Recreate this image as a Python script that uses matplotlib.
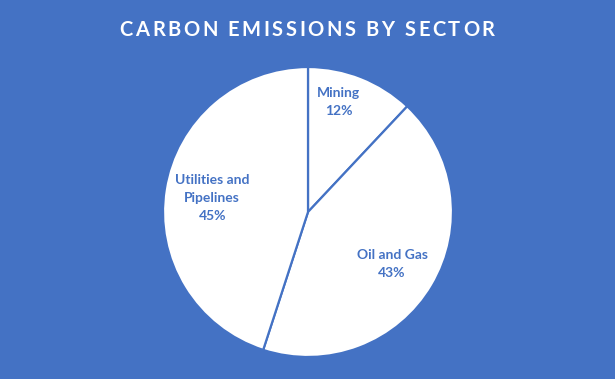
import matplotlib.pyplot as plt

# data
sectors = ["Mining", "Oil and Gas", "Utilities and\nPipelines"]
shares = [12, 43, 45]
# label positions inside the pie (data coords, radius = 1)
label_pos = [(0.21, 0.76), (0.58, -0.36), (-0.66, 0.10)]
title = "CARBON EMISSIONS BY SECTOR"

BLUE = "#4472C4"


def spaced_title(fig, text, cx, cy, target_w, **kw):
    """Draw text letter by letter so it spans target_w pixels."""
    renderer = fig.canvas.get_renderer()
    widths = []
    for ch in text:
        if ch == " ":
            widths.append(None)
            continue
        t = fig.text(0, 0, ch, **kw)
        widths.append(t.get_window_extent(renderer).width)
        t.remove()
    space_w = 5.0
    raw = sum(w if w is not None else space_w for w in widths)
    gap = (target_w - raw) / (len(text) - 1)
    x = cx - target_w / 2
    W, H = fig.bbox.width, fig.bbox.height
    for ch, w in zip(text, widths):
        if w is None:
            x += space_w + gap
            continue
        fig.text(x / W, cy / H, ch, ha="left", va="center", **kw)
        x += w + gap


def create_chart():
    fig = plt.figure(figsize=(6.15, 3.79), dpi=100)
    fig.patch.set_facecolor(BLUE)

    # pie centred near (308, 212) px with a 145 px radius
    W, H = 615, 379
    cx, cy, r = 308, H - 212, 145
    ax = fig.add_axes([(cx - r) / W, (cy - r) / H, 2 * r / W, 2 * r / H])
    ax.pie(shares, startangle=90, counterclock=False, colors=["white"] * 3,
           wedgeprops=dict(edgecolor=BLUE, linewidth=1.6))
    ax.set_xlim(-1, 1)
    ax.set_ylim(-1, 1)
    ax.set_aspect("equal")
    ax.axis("off")

    for name, val, (x, y) in zip(sectors, shares, label_pos):
        ax.text(x, y, f"{name}\n{val}%", ha="center", va="center",
                color=BLUE, fontsize=10, fontweight="bold", family="Lato",
                linespacing=1.6)

    spaced_title(fig, title, 307, H - 30, 375, color="white",
                 fontsize=14.5, fontweight="bold", family="Lato")

    fig.savefig("out.png", dpi=100, facecolor=BLUE)


if __name__ == "__main__":
    create_chart()
